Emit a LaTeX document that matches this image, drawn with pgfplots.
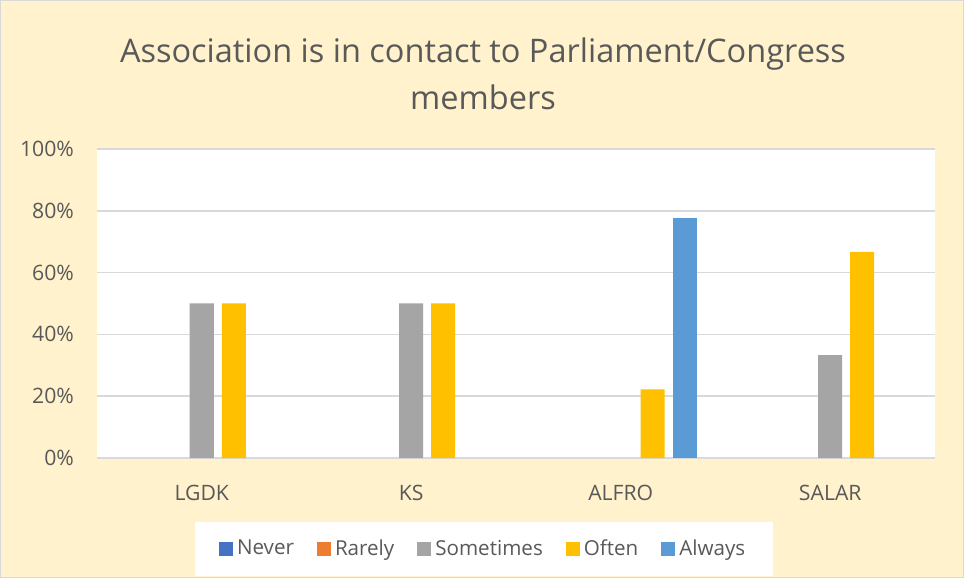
\documentclass[border=0pt]{standalone}
\usepackage{pgfplots}
\pgfplotsset{compat=1.18}
\usepackage{fontspec}
\setmainfont{Open Sans}
\definecolor{bgc}{HTML}{FFF2CC}
\definecolor{txt}{HTML}{595959}
\definecolor{gridc}{HTML}{D9D9D9}
\definecolor{cnever}{HTML}{4472C4}
\definecolor{crarely}{HTML}{ED7D31}
\definecolor{csome}{HTML}{A5A5A5}
\definecolor{coften}{HTML}{FFC000}
\definecolor{calways}{HTML}{5B9BD5}
\pgfplotsset{sqleg/.style={legend image code/.code={\fill[##1,draw=none] (0pt,-3.5pt) rectangle (7pt,3.5pt);}}}
\begin{document}
\begin{tikzpicture}
\useasboundingbox (0,0) rectangle (482pt,289pt);
\fill[bgc] (0,0) rectangle (482pt,289pt);
\draw[gridc, line width=0.6pt] (0.3pt,0.3pt) rectangle (481.7pt,288.7pt);
\node[align=center, text=txt, font=\fontsize{16.25}{23.5}\selectfont] at (241.5pt,252.3pt)
  {Association is in contact to Parliament/Congress\\members};
\begin{axis}[
  at={(48.5pt,60pt)}, anchor=south west,
  scale only axis,
  width=419pt, height=154.5pt,
  bar width=12pt,
  xmin=-0.5, xmax=3.5,
  ymin=0, ymax=100,
  unbounded coords=discard,
  xtick={0,1,2,3},
  xticklabels={LGDK, KS, ALFRO, SALAR},
  ytick={0,20,40,60,80,100},
  yticklabel={\pgfmathprintnumber{\tick}\%},
  axis background/.style={fill=white},
  axis line style={draw=none},
  major tick length=0pt,
  ymajorgrids,
  grid style={gridc, line width=0.75pt},
  tick label style={text=txt, font=\fontsize{10.6}{12}\selectfont},
  /pgf/number format/assume math mode=true,
  xticklabel style={yshift=-10pt},
  yticklabel style={xshift=-8pt},
  legend columns=5,
  legend style={at={(0.462,-0.2945)}, anchor=center, draw=none, fill=white,
    text=txt, font=\fontsize{10.3}{12}\selectfont,
    inner xsep=12pt, inner ysep=7pt,
    /tikz/every odd column/.append style={column sep=0pt},
    /tikz/every even column/.append style={column sep=9.5pt}},
]
% Never and Rarely have no bars; they only hold their places in the legend
\addlegendimage{sqleg, fill=cnever}
\addlegendimage{sqleg, fill=crarely}
\addplot[ybar, sqleg, bar shift=0pt, fill=csome, draw=none] coordinates {(0,50) (1,50) (2,nan) (3,33.33)};
\addplot[ybar, sqleg, bar shift=16pt, fill=coften, draw=none] coordinates {(0,50) (1,50) (2,22.22) (3,66.67)};
\addplot[ybar, sqleg, bar shift=32pt, fill=calways, draw=none] coordinates {(0,nan) (1,nan) (2,77.78) (3,nan)};
\legend{Never, Rarely, Sometimes, Often, Always}
\end{axis}
\end{tikzpicture}
\end{document}
